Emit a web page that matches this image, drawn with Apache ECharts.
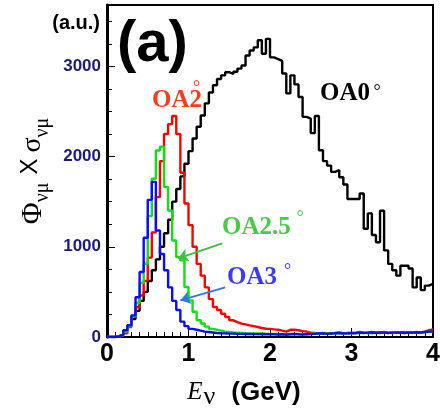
<!DOCTYPE html>
<html><head><meta charset="utf-8">
<script src="https://cdn.jsdelivr.net/npm/echarts@6/dist/echarts.min.js"></script>
<style>html,body{margin:0;padding:0;background:#fff}#c{width:440px;height:410px}</style>
</head><body><div id="c"></div>
<script>
// ---- data (bins of 0.05 GeV starting at 0) ----
const binWidth = 0.05;
const xTickLabels = ['0', '1', '2', '3', '4'];
const yTickLabels = ['0', '1000', '2000', '3000'];
const seriesNames = ['OA0°', 'OA2°', 'OA2.5°', 'OA3°'];
const oa0 = [0,0,10,30,70,130,200,290,400,500,
  620,740,860,1000,1150,1300,1500,1640,1780,1920,
  2060,2200,2330,2455,2590,2710,2790,2860,2900,2935,
  2915,2940,2975,3010,3120,3175,3210,3290,3140,3305,
  3100,3080,3060,2920,2700,2900,2800,2660,2440,2420,
  2260,2450,2070,1950,1900,1830,1850,1770,1690,1530,
  1530,1530,1590,1200,1370,1130,1050,1400,960,810,
  740,680,790,790,760,550,660,520,570,590];
const oa2 = [0,0,5,15,40,110,230,330,460,620,
  880,1160,1550,1950,2250,2360,2450,2250,1820,1480,
  1240,1000,810,680,550,420,333,300,258,222,
  185,165,148,140,129,120,111,100,92,90,
  85,81,70,60,80,80,75,65,60,48,
  45,40,45,42,38,45,50,40,45,42,
  45,55,48,45,55,50,45,55,48,45,
  50,45,55,45,50,55,50,60,75,85];
const oa25 = [0,0,5,20,60,120,230,380,600,812,
  1340,1754,2068,2110,1662,1403,1070,886,849,554,
  406,280,185,150,115,90,80,70,60,55,
  50,48,45,42,40,40,38,38,36,35,
  35,33,32,35,33,30,35,33,32,35,
  38,36,40,38,40,42,40,38,42,45,
  42,45,48,45,42,48,45,50,48,45,
  48,50,48,52,50,48,52,55,58,60];
const oa3 = [0,0,5,25,75,130,240,440,720,1100,
  1520,1720,1180,920,740,550,400,300,170,120,
  90,80,70,60,55,50,45,42,40,38,
  37,35,35,33,33,32,32,30,30,30,
  30,28,30,25,30,35,30,28,30,32,
  35,38,40,35,38,42,45,40,42,45,
  45,48,45,48,50,45,50,48,45,50,
  48,50,45,50,48,52,50,55,60,62];

function toSteps(vals) {
  const pts = vals.map((v, i) => [+(i * binWidth).toFixed(3), v]);
  pts.push([+(vals.length * binWidth).toFixed(3), vals[vals.length - 1]]);
  return pts;
}

const chart = echarts.init(document.getElementById('c'), null, {renderer: 'canvas'});
const serifF = '"Liberation Serif", "DejaVu Serif", serif';
const sansF = '"Liberation Sans", Arial, sans-serif';

function histo(name, vals, color, width, extra) {
  return Object.assign({
    name: name, type: 'line', step: 'end', data: toSteps(vals),
    showSymbol: false, symbol: 'none', animation: false,
    lineStyle: {color: color, width: width}, itemStyle: {color: color}
  }, extra || {});
}
function arrow(color, from, to) {
  return {
    silent: true, animation: false, symbol: ['none', 'arrow'], symbolSize: 10,
    label: {show: false}, lineStyle: {color: color, width: 2, type: 'solid'},
    data: [[{coord: from}, {coord: to}]]
  };
}
function txt(x, y, text, font, fill, align) {
  return {type: 'text', x: x, y: y, style: {text: text, font: font, fill: fill,
    align: align, verticalAlign: 'middle', textAlign: align, textVerticalAlign: 'middle'}};
}

const option = {
  backgroundColor: '#fff',
  animation: false,
  grid: {left: 107, right: 7, top: 5, bottom: 73, show: true, borderColor: '#000', borderWidth: 2,
    containLabel: false, outerBoundsMode: 'none'},
  xAxis: {
    type: 'value', min: 0, max: 4, interval: 1,
    axisLine: {show: true, lineStyle: {color: '#000', width: 2}},
    axisTick: {show: true, inside: true, length: 9, lineStyle: {color: '#000', width: 1}},
    minorTick: {show: true, splitNumber: 10, length: 5, lineStyle: {color: '#000', width: 1}},
    splitLine: {show: false}, minorSplitLine: {show: false},
    axisLabel: {fontSize: 25, fontWeight: 'bold', color: '#000', fontFamily: sansF, margin: 5,
      formatter: v => xTickLabels[Math.round(v)] || ''},
    name: '{e|E}{n|ν}{g|(GeV)}', nameLocation: 'middle', nameGap: 32,
    nameTextStyle: {rich: {
      e: {fontFamily: serifF, fontStyle: 'italic', fontSize: 25, lineHeight: 30, verticalAlign: 'top', color: '#000'},
      n: {fontFamily: serifF, fontSize: 26, lineHeight: 26, padding: [12, 0, 0, 1], verticalAlign: 'bottom', color: '#000'},
      g: {fontFamily: sansF, fontWeight: 'bold', fontSize: 26, lineHeight: 30, verticalAlign: 'top', color: '#000', padding: [0, 52, 0, 16]}
    }}
  },
  yAxis: {
    type: 'value', min: 0, max: 3680, interval: 1000,
    axisLine: {show: true, lineStyle: {color: '#000', width: 3}},
    axisTick: {show: true, inside: true, length: 8, lineStyle: {color: '#000', width: 1}},
    minorTick: {show: true, splitNumber: 4, length: 5, lineStyle: {color: '#000', width: 1}},
    splitLine: {show: false}, minorSplitLine: {show: false},
    axisLabel: {fontSize: 17, fontWeight: 'bold', color: '#1b1b7a', fontFamily: sansF, margin: 6, showMaxLabel: false,
      formatter: v => (v % 1000 === 0 ? (yTickLabels[v / 1000] || '') : '')},
    name: '{p|Φ}{s|νμ}{x|X}{g|σ}{s|νμ}', nameLocation: 'middle', nameRotate: 90, nameGap: 50,
    nameTextStyle: {rich: {
      p: {fontFamily: serifF, fontSize: 30, lineHeight: 34, verticalAlign: 'top', color: '#000'},
      g: {fontFamily: serifF, fontSize: 28, lineHeight: 34, verticalAlign: 'top', color: '#000'},
      x: {fontFamily: sansF, fontSize: 24, lineHeight: 34, verticalAlign: 'top', color: '#000', padding: [0, 6, 0, 8]},
      s: {fontFamily: serifF, fontSize: 20, lineHeight: 20, padding: [29, 0, 0, 0], verticalAlign: 'bottom', color: '#000'}
    }}
  },
  series: [
    histo(seriesNames[0], oa0, '#000000', 2.4),
    histo(seriesNames[1], oa2, '#ff0000', 2.4),
    histo(seriesNames[2], oa25, '#11e011', 2.4, {markLine: arrow('#40c040', [1.415, 1038], [0.874, 872])}),
    histo(seriesNames[3], oa3, '#0a0aff', 2.4, {markLine: arrow('#2a7ae0', [1.45, 550], [0.9, 406])})
  ],
  graphic: [
    txt(100, 23, '(a.u.)', 'bold 20px ' + sansF, '#000', 'right'),
    txt(117, 45, '(a)', 'bold 58px ' + sansF, '#000', 'left'),
    txt(320, 94, 'OA0', 'bold 25px ' + serifF, '#000', 'left'),
    txt(377, 92, '°', '18px ' + serifF, '#000', 'center'),
    txt(152, 101, 'OA2', 'bold 25px ' + serifF, '#ff3a1a', 'left'),
    txt(196.5, 88, '°', '18px ' + serifF, '#ff3a1a', 'center'),
    txt(222, 228, 'OA2.5', 'bold 25px ' + serifF, '#44cc44', 'left'),
    txt(300, 218.5, '°', '18px ' + serifF, '#44cc44', 'center'),
    txt(227, 277.5, 'OA3', 'bold 25px ' + serifF, '#3a3aff', 'left'),
    txt(287.5, 271.5, '°', '18px ' + serifF, '#3a3aff', 'center')
  ]
};
chart.setOption(option);
</script></body></html>
